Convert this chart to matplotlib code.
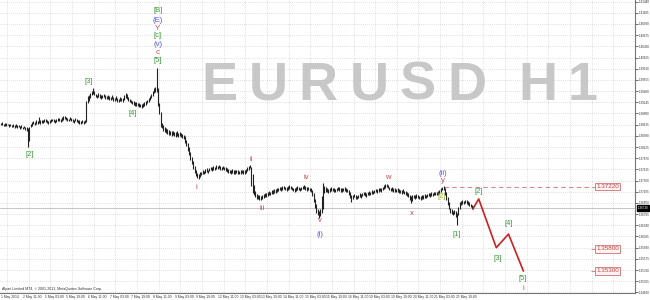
import matplotlib
matplotlib.use("Agg")
import matplotlib.pyplot as plt
from matplotlib.transforms import blended_transform_factory

plt.rcParams['font.family'] = ['Liberation Sans', 'DejaVu Sans']

# H1 bars, low/high in pips above 1.3600
base = 1.3600
bar_low = [
    262, 262, 260, 261, 261, 262, 258, 260, 257, 259, 256, 258, 255, 257, 254, 256, 253, 255,
    252, 250, 212, 226,
    257, 261, 264, 262, 266, 264, 267, 266,
    268, 267, 269, 270, 267, 266, 267, 269, 271, 270, 267, 269, 271, 272, 270, 272, 275,
    276, 273, 272, 271, 273, 272, 270, 268, 271, 270, 267, 266, 266, 267, 265, 267,
    270, 312,
    318, 324, 330, 334, 330,
    326, 324, 327, 325, 323, 324, 326, 322, 321, 323, 320, 319, 321, 318, 317, 319, 316,
    315, 318, 317, 316, 319, 325, 322, 317,
    314, 312, 310, 309, 307, 306, 305, 304, 303, 302, 304, 306,
    309, 312, 315, 319, 324, 329, 336, 339,
    338, 306, 288, 258,
    255, 250, 247, 245, 243, 241, 240, 238, 239, 237, 236, 238, 235,
    238, 236, 234, 231,
    222, 214, 204, 194, 184,
    174, 163, 154, 146, 142,
    140, 145, 148, 151, 150, 154, 156, 153, 157, 159, 158, 161, 160,
    163, 162, 164, 161, 160, 162, 159, 158,
    156, 154, 153, 152, 154, 151, 152, 153, 151, 150, 152, 153, 151, 152, 154, 157, 161,
    164,
    124, 108, 102, 98,
    95, 93, 92, 91, 94,
    97, 99, 98, 101, 103, 102, 105, 106, 108, 107,
    110, 112, 114, 113, 115, 116, 114, 113, 115, 117, 116, 114,
    112, 111, 113, 115, 114, 112, 114, 116, 117, 115, 113, 114, 112, 109,
    100, 86, 74, 63, 57, 50,
    56, 62, 70, 108, 111,
    110, 108, 111, 113, 112, 110, 109, 112, 114, 113, 111, 110, 112, 113, 111, 109, 104, 96, 88,
    95, 98, 95, 93, 96, 99, 97, 100, 102, 101, 99, 102, 104, 103, 106, 105, 107, 109, 108,
    110, 112, 111, 114, 117, 120,
    121,
    118, 114, 112, 113, 111, 110, 109, 111, 108, 107, 106, 108, 105, 104,
    101, 99, 92, 84, 90, 96, 95, 97, 96,
    93, 92, 94, 95, 97, 96, 98, 100, 99, 101, 100, 102, 103, 102, 104,
    106, 110, 114, 115,
    104, 92, 80, 70, 63,
    60, 57, 59, 52, 34,
    58, 70, 80, 83,
    82, 84, 83, 81,
    78, 75, 72, 70,
]
bar_high = [
    268, 269, 266, 267, 268, 266, 265, 266, 263, 265, 262, 264, 262, 263, 261, 262, 259, 261,
    259, 258, 256, 259,
    266, 270, 271, 270, 274, 272, 282, 274,
    275, 273, 276, 277, 274, 272, 274, 276, 277, 276, 274, 276, 278, 279, 276, 281, 283,
    283, 280, 278, 277, 280, 279, 276, 275, 278, 276, 274, 273, 272, 274, 271, 273,
    318, 328,
    330, 336, 341, 346, 340,
    334, 332, 336, 333, 331, 332, 334, 330, 329, 331, 328, 327, 330, 326, 325, 328, 324,
    323, 326, 325, 325, 332, 336, 333, 327,
    322, 320, 318, 317, 315, 314, 313, 312, 311, 310, 312, 314,
    317, 320, 324, 329, 334, 341, 346, 349,
    393, 346, 312, 292,
    268, 262, 257, 255, 253, 251, 250, 248, 249, 247, 246, 248, 245,
    247, 244, 243, 240,
    237, 229, 222, 212, 200,
    190, 181, 170, 161, 154,
    152, 155, 156, 159, 158, 162, 164, 161, 165, 167, 166, 169, 168,
    171, 170, 172, 169, 168, 170, 167, 166,
    164, 162, 161, 160, 162, 159, 160, 161, 159, 158, 160, 161, 159, 160, 163, 167, 170,
    172,
    168, 150, 125, 112,
    105, 103, 102, 101, 104,
    106, 108, 107, 110, 112, 111, 114, 115, 117, 116,
    118, 120, 122, 121, 123, 124, 122, 121, 123, 125, 124, 122,
    120, 119, 121, 123, 122, 120, 122, 124, 125, 123, 121, 122, 120, 118,
    115, 108, 95, 82, 70, 66,
    72, 100, 130, 124, 121,
    118, 116, 119, 121, 120, 118, 117, 120, 122, 121, 119, 118, 120, 121, 119, 117, 115, 110, 104,
    104, 106, 103, 101, 104, 107, 105, 108, 110, 109, 107, 110, 112, 111, 114, 113, 115, 117, 116,
    118, 120, 119, 122, 125, 128,
    129,
    126, 122, 120, 121, 119, 118, 117, 119, 116, 115, 114, 116, 113, 112,
    109, 107, 104, 100, 102, 104, 103, 105, 104,
    101, 100, 102, 103, 105, 104, 106, 108, 107, 109, 108, 110, 111, 110, 112,
    114, 118, 121, 123,
    120, 110, 98, 86, 74,
    70, 67, 69, 66, 62,
    76, 86, 90, 92,
    90, 92, 91, 89,
    86, 83, 80, 77,
]
last_price = 1.36730

time_labels = ["1 May 2014", "2 May 11:00", "5 May 03:00", "5 May 19:00", "6 May 11:00",
               "7 May 03:00", "7 May 19:00", "8 May 11:00", "9 May 03:00", "9 May 19:00",
               "12 May 11:00", "13 May 03:00", "13 May 19:00", "14 May 11:00", "15 May 03:00",
               "15 May 19:00", "16 May 11:00", "19 May 03:00", "19 May 19:00", "20 May 11:00",
               "21 May 03:00", "21 May 19:00"]
price_ticks = [1.41440, 1.41185, 1.40930, 1.40675, 1.40420, 1.40165, 1.39910, 1.39655,
               1.39400, 1.39145, 1.38890, 1.38635, 1.38380, 1.38125, 1.37870, 1.37615,
               1.37360, 1.37105, 1.36850, 1.36595, 1.36340, 1.36085, 1.35830, 1.35575,
               1.35320, 1.35065, 1.34810]

# projected wave path (bar index, price)
proj_idx = [349, 353, 366, 375, 386]
proj_price = [1.3673, 1.3694, 1.3583, 1.3614, 1.3530]
targets = [1.37220, 1.35800, 1.35300]

# wave count labels
green, red, blue, olive = '#3c9c3c', '#d04848', '#5050e8', '#9ab83a'
wave_text = ['[2]', '[3]', '[4]', '[B]', '(E)', 'Y', '[c]', '(v)', 'c', '[5]',
             'i', 'ii', 'iii', 'iv', 'v', '(i)', 'w', 'x', '(ii)', 'y', '[2]',
             '[1]', '[2]', '[3]', '[4]', '[5]', 'i']
wave_idx = [20.9, 65.1, 97.1, 115.9, 115.9, 115.9, 115.9, 115.9, 115.9, 115.9,
            144.4, 185, 193.1, 225.5, 235.8, 235.8, 285.9, 303.6, 326.5, 326.5, 325.7,
            336.8, 353, 367, 375.1, 385.4, 386.1]
wave_price = [1.3796, 1.3961, 1.3889, 1.4123, 1.4102, 1.4083, 1.4066, 1.4047, 1.4028, 1.4009,
              1.3721, 1.3785, 1.3673, 1.3744, 1.3644, 1.3614, 1.3744, 1.3662, 1.3753, 1.3735,
              1.3699, 1.3614, 1.3710, 1.3559, 1.3639, 1.3512, 1.3491]
wave_color = [green, green, green, green, blue, red, green, blue, red, green,
              red, red, red, red, red, blue, red, red, blue, red, olive,
              green, green, green, green, green, red]

fig = plt.figure(figsize=(6.5, 3), dpi=100, facecolor='white')
ax = fig.add_axes([0, 7 / 300, 635 / 650, 293 / 300])

lows = [base + v / 10000 for v in bar_low]
highs = [base + v / 10000 for v in bar_high]
ax.vlines(range(len(lows)), lows, highs, color='#222222', lw=0.8, zorder=3)

ax.set_xlim(-0.74, 467.2)
ax.set_ylim(1.34796, 1.41477)

# watermark
wm_x = [219, 268, 318, 369, 418, 467, 538, 583]
wm_chars = [ch for ch in "EURUSD H1" if ch != ' ']
for ch, xp in zip(wm_chars, wm_x):
    ax.text(xp / 635, 1 - 100 / 293, ch, transform=ax.transAxes, fontsize=39,
            fontweight='bold', color='#c8c8c8', ha='center', va='baseline', zorder=0.5)

# grid
ax.set_xticks([16 * k + 4.5 for k in range(30)])
ax.set_yticks(price_ticks)
ax.set_yticklabels([f'{p:.5f}' for p in price_ticks])
ax.grid(True, color='#c4c4c4', ls=(0, (1, 2)), lw=0.5, zorder=0)
ax.tick_params(axis='x', length=0, labelbottom=False)
ax.yaxis.tick_right()
ax.tick_params(axis='y', labelsize=2.2, length=2, pad=0.8, colors='#333333', width=0.5)
for side in ['top', 'left']:
    ax.spines[side].set_visible(False)
for side in ['right', 'bottom']:
    ax.spines[side].set_color('#777777')
    ax.spines[side].set_linewidth(0.8)

tr = blended_transform_factory(ax.transData, ax.transAxes)
for k, lab in enumerate(time_labels):
    ax.text(16 * k + 0.3, -0.012, lab, transform=tr, fontsize=2.4, ha='left', va='center',
            color='#333333', clip_on=False)

ax.text(0.003, 0.006, "Alpari Limited MT4, \u00a9 2001-2013, MetaQuotes Software Corp.",
        transform=ax.transAxes, fontsize=2.6, color='#333333', va='bottom')

# current price
ax.axhline(last_price, color='#bdbdbd', lw=0.6, zorder=1)
trp = blended_transform_factory(ax.transAxes, ax.transData)
ax.text(1.004, last_price, f'{last_price:.5f}', transform=trp, fontsize=2.2, color='white',
        ha='left', va='center', clip_on=False,
        bbox=dict(facecolor='black', edgecolor='black', pad=0.5))

# projection and targets
ax.plot(proj_idx, proj_price, color='#cc2020', lw=1.2, zorder=4)
ax.hlines(targets[0], 327, 439, colors='#d88a8a', linestyles=(0, (4, 3)), lw=0.8, zorder=2)
ax.hlines(targets[1:], 436, 439, colors='#d07070', lw=0.6, zorder=2)
for p in targets:
    ax.text(440, p, f'{p:.5f}', fontsize=4.5, color='#c04040', ha='left', va='center', zorder=5,
            bbox=dict(facecolor='#fff2f2', edgecolor='#d07070', lw=0.6, pad=0.8))

for t, i, p, c in zip(wave_text, wave_idx, wave_price, wave_color):
    ax.text(i, p, t, color=c, fontsize=5.5, ha='center', va='center', zorder=5)

fig.savefig('out.png', dpi=100)
